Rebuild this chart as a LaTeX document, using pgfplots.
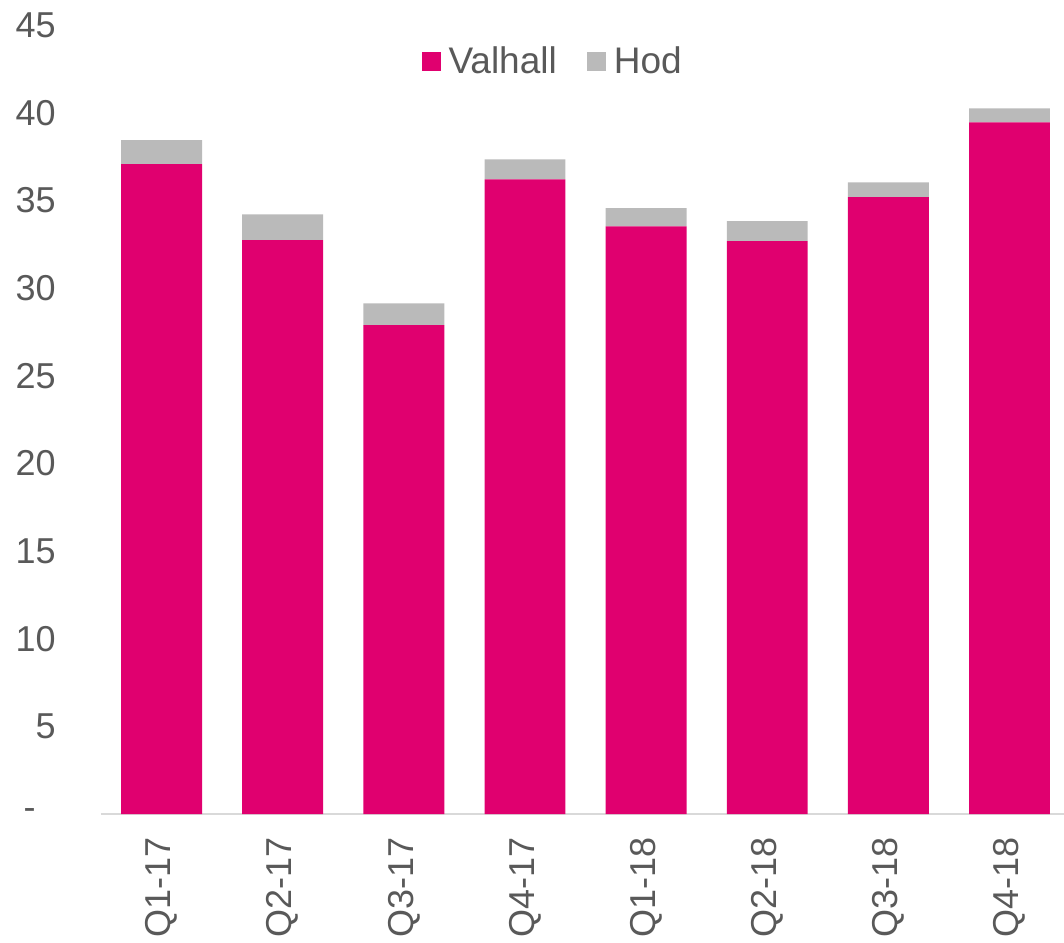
\documentclass[border=0pt]{standalone}
\usepackage{pgfplots}
\pgfplotsset{compat=1.18}
\usepackage{fontspec}
\setmainfont{Liberation Sans}
\definecolor{valhall}{HTML}{E0006F}
\definecolor{hod}{HTML}{BABABA}
\definecolor{txt}{HTML}{595959}
\definecolor{axline}{HTML}{D9D9D9}
\begin{document}
\begin{tikzpicture}
\useasboundingbox (-50.5pt,-64pt) rectangle (481.5pt,407pt);
\begin{axis}[
  at={(0,0)}, anchor=south west,
  scale only axis, width=481.5pt, height=394.5pt,
  ybar stacked, bar width=0.668,
  xmin=-0.5, xmax=7.45, ymin=0, ymax=45,
  axis x line=bottom, axis y line=left,
  x axis line style={draw=axline, line width=1pt, -},
  y axis line style={draw=none},
  major tick length=0pt,
  ytick={0,5,...,45},
  yticklabels={-\hphantom{0},5,10,15,20,25,30,35,40,45},
  xtick={0,...,7},
  xticklabels={Q1-17,Q2-17,Q3-17,Q4-17,Q1-18,Q2-18,Q3-18,Q4-18},
  xticklabel style={rotate=90, anchor=east, inner sep=0pt},
  yticklabel style={anchor=east, inner sep=0pt},
  xticklabel shift=11.5pt,
  yticklabel shift=22.5pt,
  every tick label/.append style={font=\fontsize{18}{21.6}\selectfont, text=txt},
  legend style={at={(0.47,0.954)}, anchor=center, draw=none, fill=none,
    font=\fontsize{18.5}{22}\selectfont, text=txt,
    legend columns=2,
    /tikz/every even column/.append style={column sep=13pt}},
  legend image code/.code={\fill[#1] (0pt,-4.75pt) rectangle (9.5pt,4.75pt); \path (11.5pt,0pt);},
]
\addplot[fill=valhall, draw=none] coordinates {(0,37.06) (1,32.73) (2,27.88) (3,36.2) (4,33.52) (5,32.67) (6,35.18) (7,39.45)};
\addplot[fill=hod, draw=none] coordinates {(0,1.37) (1,1.47) (2,1.25) (3,1.14) (4,1.03) (5,1.14) (6,0.85) (7,0.80)};
\legend{Valhall,Hod}
\end{axis}
\end{tikzpicture}
\end{document}
